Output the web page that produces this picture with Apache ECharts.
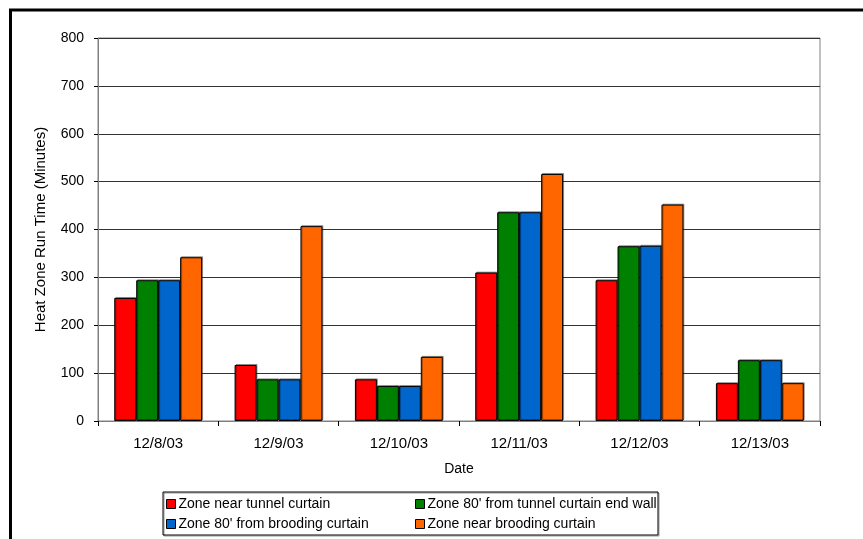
<!DOCTYPE html>
<html>
<head>
<meta charset="utf-8">
<script src="https://cdn.jsdelivr.net/npm/echarts@6/dist/echarts.min.js"></script>
<style>
  html, body { margin: 0; padding: 0; background: #fff; }
  #chart { width: 863px; height: 539px; }
</style>
</head>
<body>
<div id="chart"></div>
<script>
// Heat zone run time per day, four zones
const dates = ['12/8/03', '12/9/03', '12/10/03', '12/11/03', '12/12/03', '12/13/03'];
const seriesNames = [
  'Zone near tunnel curtain',
  "Zone 80' from tunnel curtain end wall",
  "Zone 80' from brooding curtain",
  'Zone near brooding curtain'
];
const nearTunnel = [257, 117, 87, 310, 294, 79];
const tunnelEndWall = [294, 87, 73, 436, 365, 127];
const fromBrooding = [294, 87, 73, 436, 366, 127];
const nearBrooding = [342, 407, 134, 516, 452, 79];
const yTicks = { min: 0, max: 800, interval: 100 };

const seriesValues = [nearTunnel, tunnelEndWall, fromBrooding, nearBrooding];
const colors = ['#FF0000', '#008000', '#0066CC', '#FF6600'];
const font = 'Arial, "Liberation Sans", sans-serif';

const chart = echarts.init(document.getElementById('chart'), null, { renderer: 'canvas' });

// one legend per entry so the two columns line up
const legendPos = [
  { left: 166, top: 497 },
  { left: 415, top: 497 },
  { left: 166, top: 517 },
  { left: 415, top: 517 }
];
const legends = seriesNames.map((name, i) => ({
  data: [name],
  left: legendPos[i].left,
  top: legendPos[i].top,
  itemWidth: 9,
  itemHeight: 9,
  itemGap: 0,
  padding: 0,
  selectedMode: false,
  icon: 'rect',
  itemStyle: { borderColor: '#000', borderWidth: 1 },
  textStyle: { fontFamily: font, fontSize: 14, color: '#000', padding: [0, 0, 0, -2] }
}));

chart.setOption({
  animation: false,
  backgroundColor: '#fff',
  textStyle: { fontFamily: font },
  grid: {
    left: 98, top: 38, right: 43, bottom: 118,
    show: true, borderColor: '#808080', borderWidth: 1, backgroundColor: 'transparent'
  },
  legend: legends,
  xAxis: {
    type: 'category',
    data: dates,
    name: 'Date',
    nameLocation: 'middle',
    nameGap: 41,
    nameTextStyle: { fontFamily: font, fontSize: 14, color: '#000' },
    axisLine: { lineStyle: { color: '#808080', width: 1 } },
    axisTick: { show: true, length: 5, lineStyle: { color: '#000' } },
    axisLabel: { fontFamily: font, fontSize: 15, color: '#000', margin: 15 },
    splitLine: { show: false }
  },
  yAxis: {
    type: 'value',
    min: yTicks.min,
    max: yTicks.max,
    interval: yTicks.interval,
    name: 'Heat Zone Run Time (Minutes)',
    nameLocation: 'middle',
    nameRotate: 90,
    nameGap: 50,
    nameTextStyle: { fontFamily: font, fontSize: 15, color: '#000' },
    axisLine: { show: true, lineStyle: { color: '#808080', width: 1 } },
    axisTick: { show: true, length: 4, lineStyle: { color: '#000' } },
    axisLabel: { fontFamily: font, fontSize: 14, color: '#000', margin: 14 },
    splitLine: { show: true, lineStyle: { color: '#333', width: 1 } }
  },
  series: seriesNames.map((name, i) => ({
    name,
    type: 'bar',
    data: seriesValues[i],
    barGap: '0%',
    barCategoryGap: '27%',
    itemStyle: {
      color: colors[i],
      borderColor: '#000',
      borderWidth: 1,
      shadowColor: 'rgba(0,0,0,0.35)',
      shadowOffsetX: 1,
      shadowOffsetY: -1,
      shadowBlur: 0
    }
  })),
  graphic: [
    {
      type: 'rect',
      shape: { x: 163, y: 492, width: 495, height: 43 },
      style: { fill: 'transparent', stroke: '#000', lineWidth: 1, shadowColor: 'rgba(0,0,0,0.4)', shadowOffsetX: 1, shadowOffsetY: 1 },
      z: -1
    },
    {
      type: 'rect',
      shape: { x: 10.5, y: 10, width: 900, height: 600 },
      style: { fill: 'transparent', stroke: '#000', lineWidth: 3 },
      z: 10
    }
  ]
});
</script>
</body>
</html>
